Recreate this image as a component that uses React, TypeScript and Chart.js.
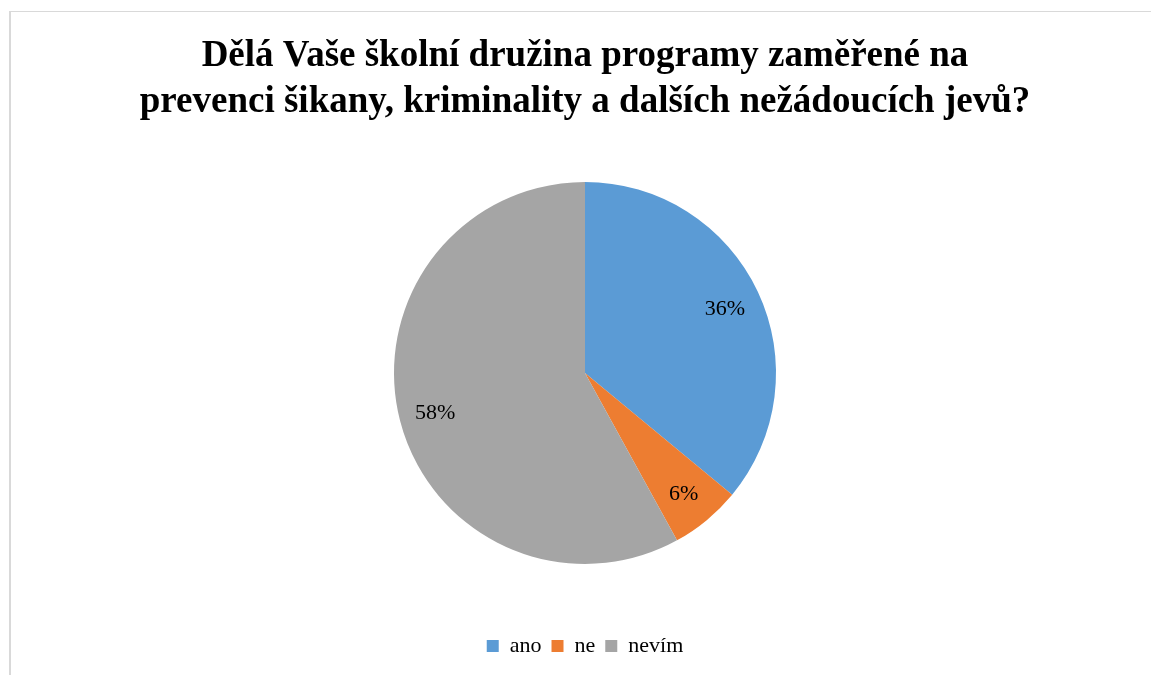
import React, { useEffect, useRef } from "react";
import { Chart, registerables } from "chart.js";

Chart.register(...registerables);

const titleLines = [
  "Dělá Vaše školní družina programy zaměřené na",
  "prevenci šikany, kriminality a dalších nežádoucích jevů?",
];
const categories = ["ano", "ne", "nevím"];
const values = [36, 6, 58];
const colors = ["#5B9BD5", "#ED7D31", "#A5A5A5"];

const SERIF = "'Liberation Serif', 'Times New Roman', serif";

const labelPlugin = {
  id: "sliceLabels",
  afterDatasetsDraw(chart: any) {
    const ctx = chart.ctx;
    const meta = chart.getDatasetMeta(0);
    ctx.save();
    ctx.font = `22px ${SERIF}`;
    ctx.fillStyle = "#000";
    ctx.textAlign = "center";
    ctx.textBaseline = "middle";
    meta.data.forEach((arc: any, i: number) => {
      const p = arc.getProps(["x", "y", "startAngle", "endAngle", "outerRadius"], true);
      const mid = (p.startAngle + p.endAngle) / 2;
      const r = p.outerRadius * 0.81;
      ctx.fillText(values[i] + "%", p.x + Math.cos(mid) * r, p.y + Math.sin(mid) * r + 2);
    });
    ctx.restore();
  },
};

export default function App() {
  const ref = useRef<HTMLCanvasElement>(null);
  useEffect(() => {
    document.body.style.margin = "0";
    const chart = new Chart(ref.current!, {
      type: "pie",
      data: {
        labels: categories,
        datasets: [
          {
            data: values,
            backgroundColor: colors,
            borderWidth: 0,
          },
        ],
      },
      options: {
        animation: false,
        responsive: false,
        layout: { padding: { left: 19, right: 0, top: 0, bottom: 8 } },
        plugins: {
          tooltip: { enabled: false },
          title: {
            display: true,
            text: titleLines,
            color: "#000",
            font: { family: SERIF, size: 37, weight: "bold", lineHeight: 46 / 37 },
            padding: { top: 33, bottom: 57 },
          },
          legend: {
            display: true,
            position: "bottom",
            title: {
              display: true,
              text: " ",
              font: { size: 1, lineHeight: 1 },
              padding: { top: 60, bottom: 0 },
            },
            labels: {
              color: "#000",
              font: { family: SERIF, size: 22 },
              boxWidth: 12,
              boxHeight: 12,
              padding: 10,
            },
          },
        },
      },
      plugins: [labelPlugin],
    });
    return () => chart.destroy();
  }, []);
  return (
    <div style={{ position: "relative", width: 1151, height: 675, background: "#fff", overflow: "hidden" }}>
      <canvas ref={ref} width={1151} height={675} style={{ display: "block" }} />
      <div
        style={{
          position: "absolute",
          left: 9,
          top: 11,
          width: 1200,
          height: 700,
          borderLeft: "2px solid #d9d9d9",
          borderTop: "1px solid #d9d9d9",
          pointerEvents: "none",
        }}
      />
    </div>
  );
}
